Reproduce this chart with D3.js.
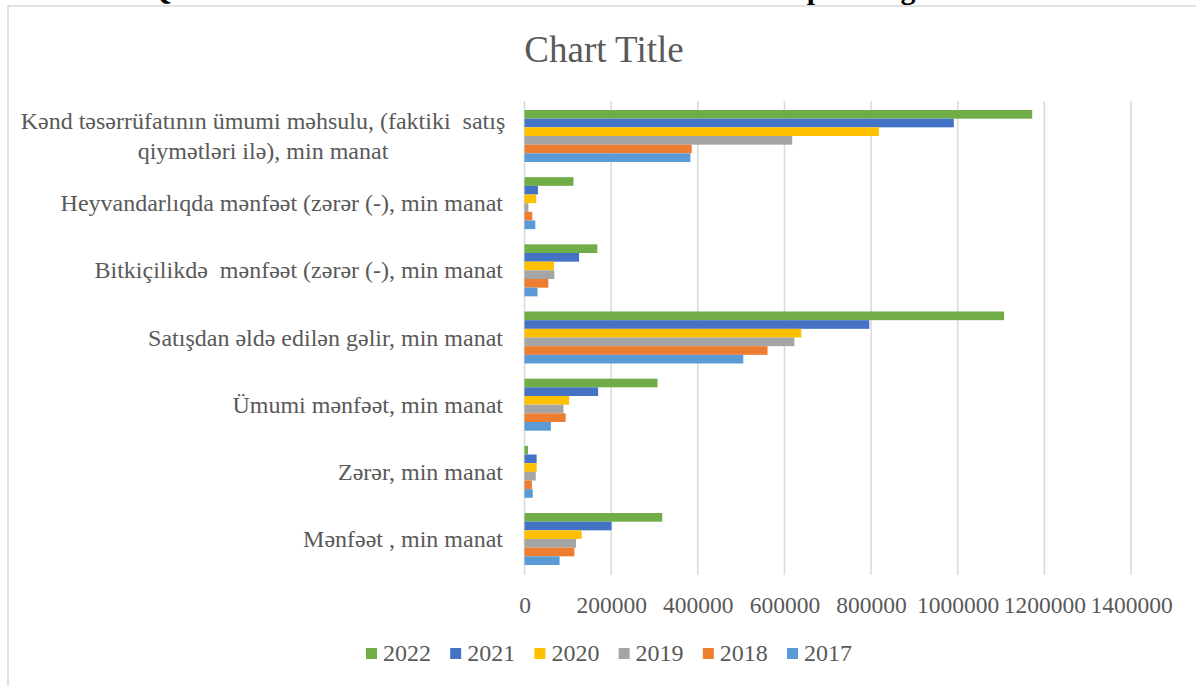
<!DOCTYPE html>
<html>
<head>
<meta charset="utf-8">
<script src="https://cdn.jsdelivr.net/npm/d3@7"></script>
<style>
  body { margin: 0; background: #fff; }
  text { font-family: "Liberation Serif", "Times New Roman", serif; fill: #595959; white-space: pre; }
</style>
</head>
<body>
<svg></svg>
<script>

var w = 1196;
var h = 686;

// categories top -> bottom, "\n" = line break in label
var categories = [
  "Kənd təsərrüfatının ümumi məhsulu, (faktiki  satış\nqiymətləri ilə), min manat",
  "Heyvandarlıqda mənfəət (zərər (-), min manat",
  "Bitkiçilikdə  mənfəət (zərər (-), min manat",
  "Satışdan əldə edilən gəlir, min manat",
  "Ümumi mənfəət, min manat",
  "Zərər, min manat",
  "Mənfəət , min manat"
];

var years = ["2022", "2021", "2020", "2019", "2018", "2017"];

// values, same order as categories
var v2022 = [1172000, 113000, 168000, 1107000, 307000, 8000, 318000];
var v2021 = [991000, 31000, 126000, 796000, 170000, 28000, 201000];
var v2020 = [818000, 27000, 68000, 639000, 103000, 28000, 132000];
var v2019 = [618000, 9000, 69000, 623000, 90000, 26000, 119000];
var v2018 = [386000, 18000, 55000, 561000, 95000, 17000, 115000];
var v2017 = [383000, 25000, 30000, 505000, 61000, 19000, 81000];

var colors = ["#70AD47", "#4472C4", "#FFC000", "#A5A5A5", "#ED7D31", "#5B9BD5"];

var ticks = [0, 200000, 400000, 600000, 800000, 1000000, 1200000, 1400000];

var series = [v2022, v2021, v2020, v2019, v2018, v2017];

var serif = "'Liberation Serif', 'Times New Roman', serif";

var svg = d3.select("svg")
    .attr("width", w)
    .attr("height", h);

// bits of the document heading cut off above the chart
var head = [["Q", 160], ["p", 815], ["g", 908]];
svg.selectAll(".head")
    .data(head)
    .enter()
    .append("text")
    .attr("class", "head")
    .attr("x", function(d) { return d[1]; })
    .attr("y", -1)
    .attr("text-anchor", "middle")
    .style("fill", "#000")
    .style("font-weight", "bold")
    .style("font-size", "30px")
    .text(function(d) { return d[0]; });

// chart frame
svg.append("rect")
    .attr("x", 8)
    .attr("y", 6)
    .attr("width", w + 20)
    .attr("height", h + 20)
    .attr("fill", "none")
    .attr("stroke", "#d9d9d9")
    .attr("stroke-width", 1.5);

var x = d3.scaleLinear()
    .domain([0, 1400000])
    .range([524.5, 1131]);

var y = d3.scaleBand()
    .domain(categories)
    .range([110, 565])
    .paddingInner(0.226)
    .paddingOuter(0);

var inner = d3.scaleBand()
    .domain(years)
    .range([0, y.bandwidth()]);

// gridlines
svg.selectAll(".grid")
    .data(ticks)
    .enter()
    .append("line")
    .attr("class", "grid")
    .attr("x1", function(d) { return x(d); })
    .attr("x2", function(d) { return x(d); })
    .attr("y1", 101)
    .attr("y2", 575)
    .attr("stroke", "#d9d9d9")
    .attr("stroke-width", 1.5);

// bars
var groups = svg.selectAll(".series")
    .data(series)
    .enter()
    .append("g")
    .attr("class", "series")
    .attr("fill", function(d, i) { return colors[i]; });

groups.selectAll("rect")
    .data(function(d, i) {
        return d.map(function(v, j) { return { cat: categories[j], year: years[i], value: v }; });
    })
    .enter()
    .append("rect")
    .attr("x", x(0))
    .attr("y", function(d) { return y(d.cat) + inner(d.year); })
    .attr("width", function(d) { return x(d.value) - x(0); })
    .attr("height", inner.bandwidth());

// x axis labels
var xAxis = d3.axisBottom(x)
    .tickValues(ticks)
    .tickFormat(d3.format("d"))
    .tickSize(0)
    .tickPadding(0);

var ax = svg.append("g")
    .attr("transform", "translate(0,596)")
    .call(xAxis)
    .attr("font-family", null)
    .attr("font-size", null);
ax.select(".domain").remove();
ax.selectAll("text")
    .attr("dy", "0.71em")
    .attr("fill", null)
    .style("fill", "#595959")
    .style("font-size", "23.5px")
    .style("font-family", serif);

// category labels
svg.selectAll(".cat")
    .data(categories)
    .enter()
    .append("text")
    .attr("class", "cat")
    .style("font-size", "24px")
    .style("font-family", serif)
    .each(function(d) {
        var lines = d.split("\n");
        var t = d3.select(this);
        var cy = y(d) + y.bandwidth() / 2;
        if (lines.length > 1) {
            // multi-line labels are centred like in Excel
            t.attr("text-anchor", "middle");
            lines.forEach(function(l, k) {
                t.append("tspan")
                    .attr("x", 263)
                    .attr("y", cy + (k - (lines.length - 1) / 2) * 30 + 8)
                    .text(l);
            });
        } else {
            t.attr("text-anchor", "end")
                .attr("x", 503)
                .attr("y", cy + 8)
                .text(d);
        }
    });

// title
svg.append("text")
    .attr("x", 604)
    .attr("y", 62)
    .attr("text-anchor", "middle")
    .style("font-size", "37px")
    .style("font-family", serif)
    .text("Chart Title");

// legend
var leg = svg.selectAll(".leg")
    .data(years)
    .enter()
    .append("g")
    .attr("class", "leg")
    .attr("transform", function(d, i) { return "translate(" + (366 + i * 84.2) + ",648)"; });

leg.append("rect")
    .attr("width", 11)
    .attr("height", 11)
    .attr("fill", function(d, i) { return colors[i]; });

leg.append("text")
    .attr("x", 17)
    .attr("y", 13)
    .style("font-size", "24px")
    .style("font-family", serif)
    .text(function(d) { return d; });

</script>
</body>
</html>
